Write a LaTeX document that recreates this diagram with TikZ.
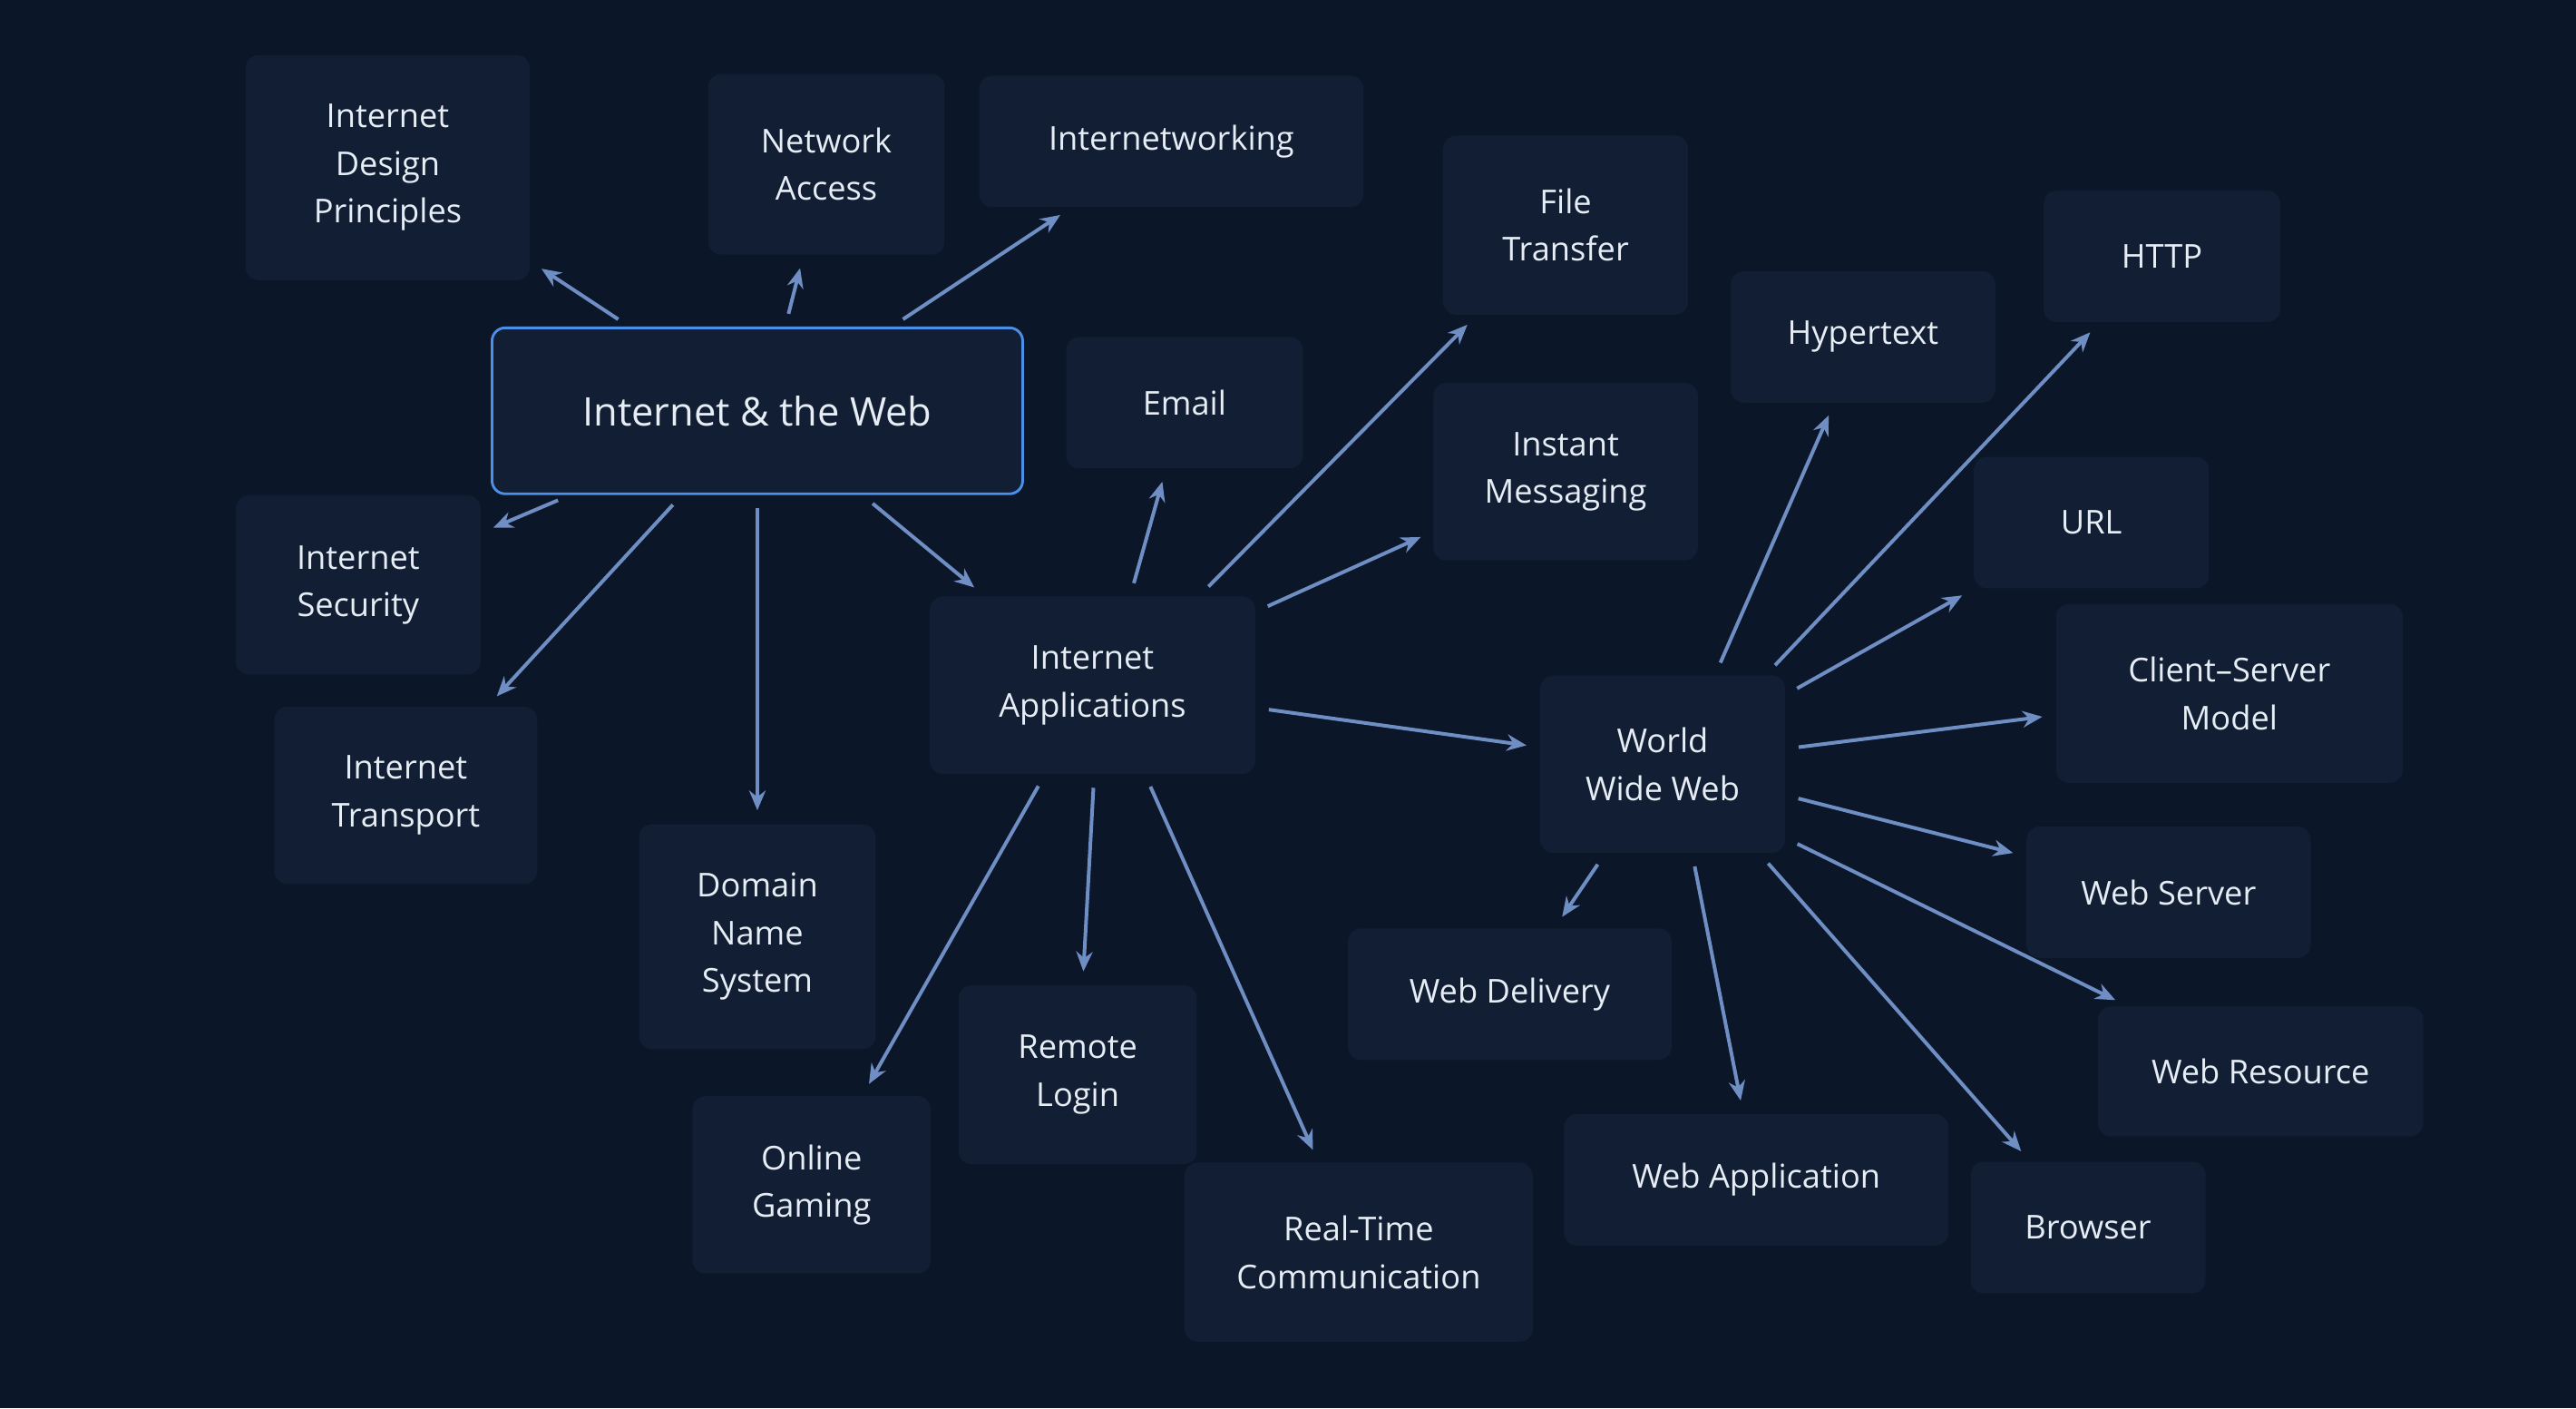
\documentclass[tikz,border=0pt]{standalone}
\usepackage{fontspec}
\setmainfont{Open Sans}
\usetikzlibrary{arrows.meta}
\definecolor{bg}{HTML}{0B1628}
\definecolor{boxf}{HTML}{111E33}
\definecolor{txt}{HTML}{E6EDF5}
\definecolor{edge}{HTML}{6F8FC4}
\definecolor{hl}{HTML}{4A8FE8}
\begin{document}
\begin{tikzpicture}[x=0.5pt,y=-0.5pt,
 box/.style={rectangle,rounded corners=4pt,fill=boxf,text=txt,align=center,font=\fontsize{10}{14.5}\selectfont,inner sep=0pt},
 ar/.style={draw=edge,line width=1.1pt,-{Stealth[length=6pt,width=5pt]},shorten >=4pt,shorten <=4pt}]
\fill[bg] (0,0) rectangle (1568,857);
\useasboundingbox (0,0) rectangle (1568,857);
\def\B(#1,#2,#3,#4,#5)#6{\node[box,minimum width=#4*0.5pt,minimum height=#5*0.5pt] (#1) at (#2,#3) {#6};}
\B(idp,236,102,173,137){Internet\\Design\\Principles}
\B(na,503,100,144,110){Network\\Access}
\B(iw,713,86,234,80){Internetworking}
\B(ft,953,137,149,109){File\\Transfer}
\B(http,1316,156,144,80){HTTP}
\B(ht,1134,205,161,80){Hypertext}
\node[box,minimum width=161.5pt,minimum height=50.5pt,draw=hl,line width=0.8pt,font=\fontsize{12}{15}\selectfont] (main) at (461,250) {Internet \& the Web};
\B(em,721,245,144,80){Email}
\B(im,953,287,161,108){Instant\\Messaging}
\B(url,1273,318,143,80){URL}
\B(is,218,356,149,109){Internet\\Security}
\B(ia,665,417,198,108){Internet\\Applications}
\B(cs,1357,422,211,109){Client–Server\\Model}
\B(www,1012,465,149,108){World\\Wide Web}
\B(it,247,484,160,108){Internet\\Transport}
\B(dns,461,570,144,137){Domain\\Name\\System}
\B(ws,1320,543,173,80){Web Server}
\B(wd,919,605,197,80){Web Delivery}
\B(rl,656,654,145,109){Remote\\Login}
\B(wr,1376,652,198,79){Web Resource}
\B(og,494,721,145,108){Online\\Gaming}
\B(wa,1069,718,234,80){Web Application}
\B(br,1271,747,143,80){Browser}
\B(rt,827,762,212,109){Real-Time\\Communication}
\draw[ar] (main.north -| 383,0) -- (idp);
\draw[ar] (main.north -| 478,0) -- (na);
\draw[ar] (main.north -| 543,0) -- (iw);
\draw[ar] (main.south -| 347,0) -- (is);
\draw[ar] (main.south -| 415,0) -- (it);
\draw[ar] (main) -- (dns);
\draw[ar] (main.south -| 525,0) -- (ia);
\draw[ar] (ia.north -| 688,0) -- (em);
\draw[ar] (ia.north -| 730,0) -- (ft);
\draw[ar] (ia) -- (im);
\draw[ar] (ia) -- (www);
\draw[ar] (ia.south -| 636,0) -- (og);
\draw[ar] (ia.south -| 666,0) -- (rl);
\draw[ar] (ia.south -| 697,0) -- (rt);
\draw[ar] (www.north -| 1044,0) -- (ht);
\draw[ar] (www.north -| 1075,0) -- (http);
\draw[ar] (www) -- (url);
\draw[ar] (www) -- (cs);
\draw[ar] (www) -- (ws);
\draw[ar] (www.east |- 0,510) -- (wr);
\draw[ar] (www.south -| 1071,0) -- (br);
\draw[ar] (www.south -| 1030,0) -- (wa);
\draw[ar] (www.south -| 977,0) -- (wd);
\end{tikzpicture}
\end{document}
